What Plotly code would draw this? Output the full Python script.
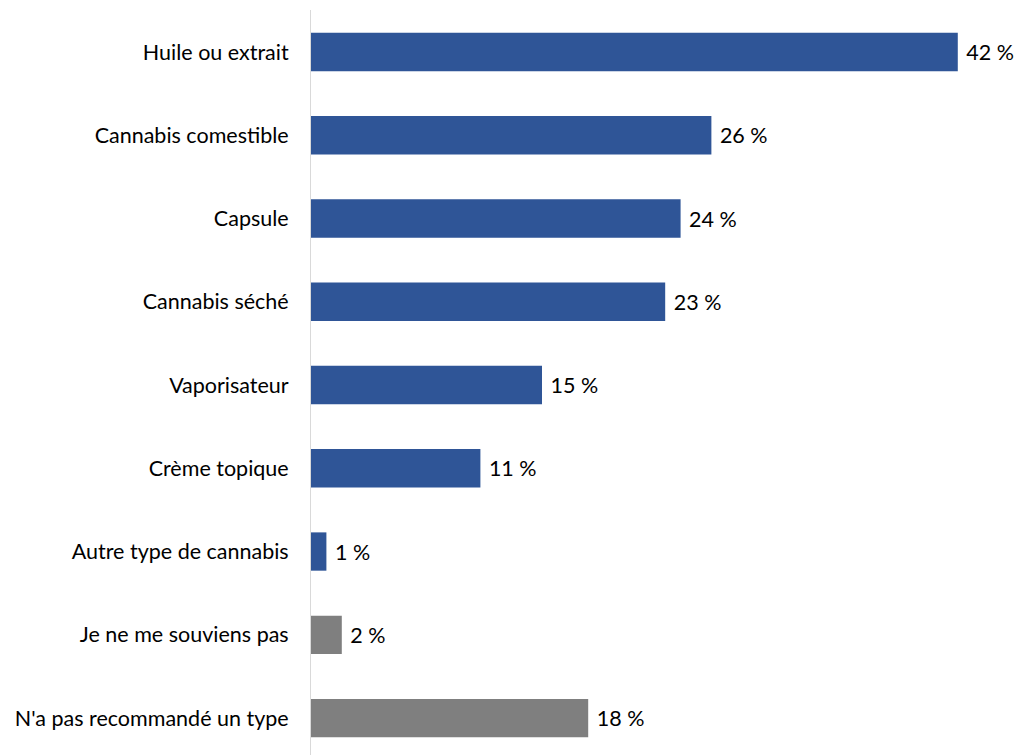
import plotly.graph_objects as go

# Cannabis product types, listed top to bottom
categories = [
    "Huile ou extrait",
    "Cannabis comestible",
    "Capsule",
    "Cannabis séché",
    "Vaporisateur",
    "Crème topique",
    "Autre type de cannabis",
    "Je ne me souviens pas",
    "N'a pas recommandé un type",
]
percentages = [42, 26, 24, 23, 15, 11, 1, 2, 18]
value_labels = [f"\u00a0{v} %" for v in percentages]

BLUE = "#2F5597"
GREY = "#7F7F7F"
bar_colors = [BLUE] * 7 + [GREY] * 2

FONT = "Lato, Carlito, Calibri, sans-serif"
SIZE = 21.5

fig = go.Figure(
    go.Bar(
        x=percentages,
        y=categories,
        orientation="h",
        marker=dict(color=bar_colors, line=dict(width=0)),
        text=value_labels,
        textposition="outside",
        textfont=dict(family=FONT, size=SIZE, color="#000000"),
        cliponaxis=False,
        width=0.46,
    )
)

fig.update_layout(
    width=1016,
    height=755,
    margin=dict(l=311, r=0, t=10, b=0, pad=0),
    paper_bgcolor="white",
    plot_bgcolor="white",
    showlegend=False,
    uniformtext=dict(mode=False),
    font=dict(family=FONT, size=SIZE, color="#000000"),
    xaxis=dict(
        range=[0, 45.78],
        visible=False,
        showgrid=False,
        zeroline=False,
    ),
    yaxis=dict(
        range=[8.444, -0.5045],
        showline=True,
        linecolor="#D9D9D9",
        linewidth=1,
        showgrid=False,
        ticks="",
        ticklabelstandoff=17,
        tickfont=dict(family=FONT, size=SIZE, color="#000000"),
    ),
)

fig.write_html("out.html")
